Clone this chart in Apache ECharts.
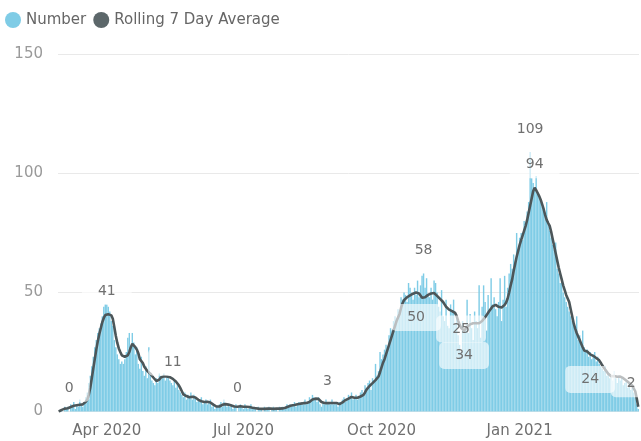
<!DOCTYPE html>
<html>
<head>
<meta charset="utf-8">
<script src="https://cdn.jsdelivr.net/npm/echarts@6/dist/echarts.min.js"></script>
<style>
  html, body { margin: 0; padding: 0; background: #ffffff; }
  #chart { width: 641px; height: 441px; }
</style>
</head>
<body>
<div id="chart"></div>
<script>
// Daily counts, one value per day starting 2020-02-29.
const dailyNumber = [
  0,
  // Mar 2020
  0,1,0,2,1,2,0,3,2,4,1,3,2,5,3,2,4,6,8,12,15,19,23,27,30,33,35,37,40,44,45,
  // Apr 2020
  45,44,42,38,36,30,27,24,22,20,21,20,22,25,31,33,26,33,29,24,27,20,18,23,17,15,19,14,27,16,
  // May 2020
  13,12,11,14,12,16,15,14,16,13,15,14,13,12,11,13,10,12,9,8,7,6,8,5,7,6,8,5,7,6,4,
  // Jun 2020
  5,4,6,3,4,5,3,4,5,2,3,1,2,2,3,4,2,5,3,2,3,2,3,1,2,3,0,2,3,2,
  // Jul 2020
  1,3,2,1,2,3,1,2,1,0,2,1,1,0,2,1,1,2,0,1,2,1,1,0,2,1,2,1,2,3,2,
  // Aug 2020
  3,2,3,4,2,3,4,3,4,3,5,3,4,6,5,7,6,5,4,6,3,2,4,3,5,3,4,3,5,3,4,
  // Sep 2020
  3,2,4,3,5,6,4,5,7,6,8,5,6,7,5,6,8,9,7,11,10,12,13,9,14,13,20,15,17,25,
  // Oct 2020
  22,24,26,28,27,32,35,34,38,40,39,43,42,48,47,50,49,46,54,52,50,47,52,49,55,48,53,57,58,52,56,
  // Nov 2020
  49,48,52,47,55,54,50,44,42,51,40,38,47,36,35,45,42,47,37,40,32,28,25,38,34,36,47,33,41,35,
  // Dec 2020
  30,42,38,35,53,31,44,53,46,34,49,42,56,45,48,43,40,46,56,38,47,57,44,52,58,62,60,66,63,75,68,
  // Jan 2021
  73,75,72,80,78,84,88,109,98,96,94,99,92,90,88,86,84,82,88,80,76,73,70,68,71,60,58,54,56,50,48,
  // Feb 2021
  46,44,42,40,38,36,34,40,30,32,28,34,27,25,26,23,25,22,24,25,21,23,20,19,18,17,19,15,
  // Mar 2021
  16,14,15,13,17,14,12,15,13,14,11,12,13,10,12,9,10,8,6,3,1
];

// Rolling 7 day average, same days as dailyNumber.
const rollingAverage = [
  0,
  // Mar 2020
  0.3,0.7,0.8,1.2,1.3,1.4,1.8,1.9,2.0,2.4,2.3,2.6,2.8,2.8,3.1,3.0,3.4,4.1,5.0,7.0,10.0,14.0,18.0,22.0,26.0,29.5,32.5,35.0,37.5,39.3,40.5,
  // Apr 2020
  41,40.9,40.8,40.4,39.0,35.5,31.8,28.8,26.5,25.0,23.6,23.0,23.0,23.2,23.6,25.0,27.0,28.4,28.0,27.0,26.0,24.5,22.0,21.2,20.4,18.8,18.3,17.0,16.8,15.9,
  // May 2020
  15.2,14.3,13.5,12.8,12.6,13.4,14.3,14.7,14.8,14.5,14.7,14.7,14.4,14.0,13.7,13.0,12.6,12.0,11.0,9.8,8.5,7.2,6.8,6.5,6.3,6.0,6.1,6.2,6.3,5.9,5.4,
  // Jun 2020
  4.9,4.6,4.3,4.1,4.0,4.0,4.1,4.0,3.8,3.4,2.9,2.4,2.1,2.0,2.1,2.4,2.8,3.0,3.1,3.0,2.9,2.7,2.5,2.3,2.1,2.0,2.0,2.1,2.2,2.1,
  // Jul 2020
  2.0,1.8,2.0,2.1,1.9,1.8,1.6,1.5,1.4,1.3,1.2,1.3,1.1,1.2,1.1,1.1,1.2,1.1,1.2,1.2,1.1,1.1,1.2,1.2,1.2,1.3,1.3,1.4,1.6,1.9,2.1,
  // Aug 2020
  2.3,2.5,2.6,2.7,2.9,3.0,3.2,3.3,3.4,3.5,3.6,3.6,3.7,4.0,4.5,5.0,5.2,5.4,5.5,5.3,4.6,4.0,3.7,3.6,3.7,3.5,3.5,3.6,3.7,3.6,3.6,
  // Sep 2020
  3.6,3.4,3.1,3.2,3.8,4.4,4.8,5.1,5.4,5.8,6.1,6.0,5.8,5.7,5.8,6.0,6.3,6.6,7.0,8.0,9.2,10.0,10.7,11.1,11.9,12.3,13.2,13.8,14.7,16.5,
  // Oct 2020
  18.5,20.5,22.0,24.0,26.0,28.0,30.0,32.0,34.0,36.0,38.0,39.5,41.0,43.5,45.5,46.8,47.5,48.0,48.4,48.8,49.2,49.5,49.8,50,49.9,49.6,48.8,47.8,47.5,48.0,48.6,
  // Nov 2020
  49.0,49.3,49.6,49.8,49.8,49.4,48.6,47.9,47.3,46.7,46.0,45.0,44.0,43.2,42.8,42.5,42.2,41.9,41.4,40.2,38.2,36.5,35.2,34.4,34,34.6,35.5,36.2,36.6,36.9,
  // Dec 2020
  37.1,37.2,37.1,37.0,37.1,37.4,38.0,38.8,39.6,40.5,41.5,42.4,43.3,44.2,45.0,44.8,44.4,44.0,43.8,43.7,44.0,44.8,45.8,47.5,50.0,53.0,55.5,59.0,62.0,65.0,67.5,
  // Jan 2021
  70.0,72.0,74.0,76.0,78.0,80.5,83.5,86.5,89.5,92.5,94,93.0,91.8,90.5,89.0,87.0,85.0,82.5,80.5,79.2,78.0,75.5,72.5,69.5,66.5,63.5,60.5,58.0,55.5,53.0,51.0,
  // Feb 2021
  49.0,47.5,46.0,43.0,40.0,37.0,34.8,33.0,31.5,30.0,28.5,27.0,25.6,25.0,25.2,24.4,24,24.2,23.4,23.3,22.5,22.6,21.5,20.5,19.4,18.5,17.6,16.8,
  // Mar 2021
  15.9,15.2,14.8,14.7,14.9,14.6,14.6,14.8,14.7,14.4,14.0,13.5,13.0,12.6,12.0,11.4,10.9,10.5,8.5,5.5,2
];

// Days whose values carry a data label.
const numberLabelDates = ['2020-03-07', '2020-05-15', '2020-06-27', '2020-08-26', '2020-10-29', '2020-11-23', '2021-01-08'];
const averageLabelDatesAbove = ['2020-04-01', '2021-01-11', '2021-03-21'];
const averageLabelDatesBelow = ['2020-10-24', '2020-11-25', '2021-02-17'];

// Quarter-start tick labels on the date axis.
const tickMonths = ['01', '04', '07', '10'];
const monthNames = ['Jan','Feb','Mar','Apr','May','Jun','Jul','Aug','Sep','Oct','Nov','Dec'];

const firstDay = Date.UTC(2020, 1, 29);
const dates = dailyNumber.map((_, i) => new Date(firstDay + i * 86400000).toISOString().slice(0, 10));

const FONT = '"DejaVu Sans", sans-serif';
const BAR_COLOR = '#7fcce6';
const LINE_COLOR = '#4c5659';

function labelStyle(position) {
  return {
    show: true,
    position: position,
    distance: position === 'top' ? 9 : 11,
    formatter: '{c}',
    color: '#707070',
    fontFamily: FONT,
    fontSize: 14,
    lineHeight: 17,
    backgroundColor: 'rgba(255,255,255,0.62)',
    borderRadius: 5,
    padding: [5, 16]
  };
}

function markFor(values, labelDates, position) {
  return labelDates.map(d => {
    const i = dates.indexOf(d);
    const item = { coord: [d, values[i]], value: values[i], label: labelStyle(position) };
    if (i === dates.length - 1) item.label.offset = [-7, 0];
    return item;
  });
}

const chart = echarts.init(document.getElementById('chart'), null, { renderer: 'canvas' });

chart.setOption({
  animation: false,
  backgroundColor: '#ffffff',
  legend: {
    data: ['Number', 'Rolling 7 Day Average'],
    left: 0,
    top: 7,
    icon: 'circle',
    itemWidth: 16,
    itemHeight: 16,
    itemGap: 7,
    textStyle: { color: '#666666', fontSize: 15, fontFamily: FONT }
  },
  grid: { left: 58, right: 2, top: 54.5, bottom: 29.5 },
  xAxis: {
    type: 'category',
    data: dates,
    boundaryGap: true,
    axisLine: { show: false },
    axisTick: { show: false },
    axisLabel: {
      interval: (index, value) => value.slice(8) === '01' && tickMonths.includes(value.slice(5, 7)),
      formatter: value => monthNames[+value.slice(5, 7) - 1] + ' ' + value.slice(0, 4),
      color: '#6f6f6f',
      fontSize: 15,
      fontFamily: FONT,
      margin: 12
    }
  },
  yAxis: {
    type: 'value',
    min: 0,
    max: 150,
    interval: 50,
    axisLine: { show: false },
    axisTick: { show: false },
    splitLine: { lineStyle: { color: '#e9e9e9', width: 1 } },
    axisLabel: { color: '#9a9a9a', fontSize: 15, fontFamily: FONT, margin: 15 }
  },
  series: [
    {
      name: 'Number',
      type: 'bar',
      data: dailyNumber,
      barCategoryGap: '5%',
      itemStyle: { color: BAR_COLOR },
      markPoint: {
        symbol: 'circle',
        symbolSize: 1,
        itemStyle: { color: 'rgba(0,0,0,0)' },
        z: 6,
        silent: true,
        data: markFor(dailyNumber, numberLabelDates, 'top')
      }
    },
    {
      name: 'Rolling 7 Day Average',
      type: 'line',
      data: rollingAverage,
      showSymbol: false,
      symbol: 'circle',
      itemStyle: { color: '#5c676a' },
      lineStyle: { color: LINE_COLOR, width: 2.6 },
      markPoint: {
        symbol: 'circle',
        symbolSize: 1,
        itemStyle: { color: 'rgba(0,0,0,0)' },
        z: 6,
        silent: true,
        data: markFor(rollingAverage, averageLabelDatesAbove, 'top')
          .concat(markFor(rollingAverage, averageLabelDatesBelow, 'bottom'))
      }
    }
  ]
});
</script>
</body>
</html>
